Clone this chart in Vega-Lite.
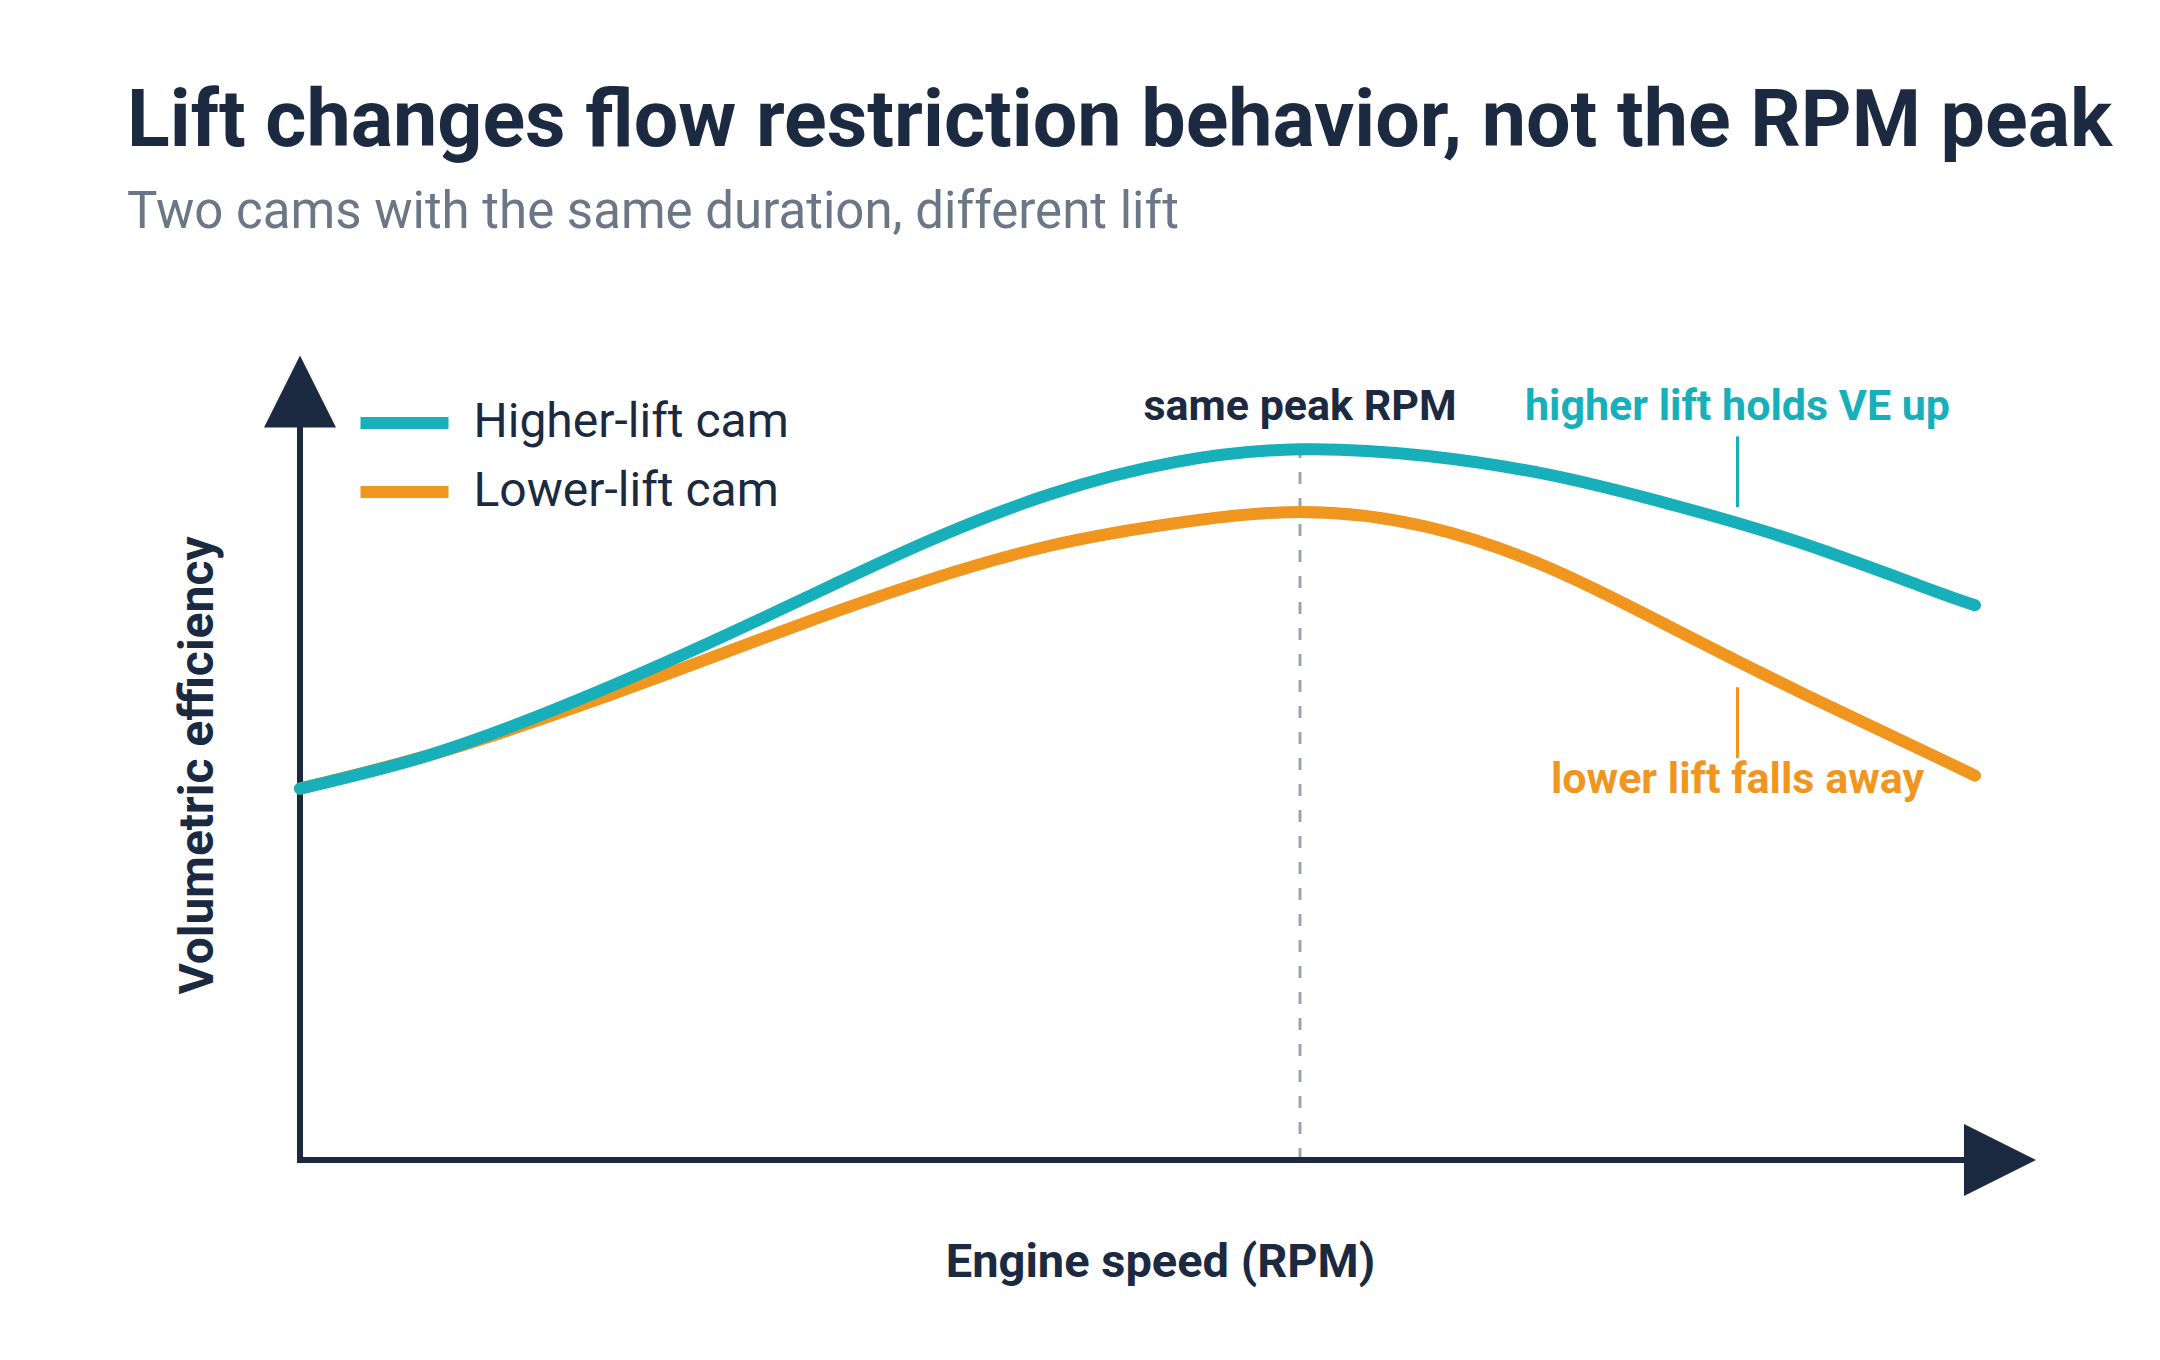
{
  "$schema": "https://vega.github.io/schema/vega-lite/v6.json",
  "width": 1750,
  "height": 804,
  "autosize": "none",
  "padding": {"left": 300, "top": 356, "right": 110, "bottom": 200},
  "background": "#ffffff",
  "title": {
    "text": "Lift changes flow restriction behavior, not the RPM peak",
    "subtitle": "Two cams with the same duration, different lift",
    "anchor": "start",
    "frame": "group",
    "dx": -173,
    "offset": 116,
    "font": "Roboto",
    "fontSize": 79,
    "fontWeight": 700,
    "color": "#1b2a41",
    "subtitleFont": "Roboto",
    "subtitleFontSize": 51,
    "subtitleFontWeight": 400,
    "subtitleColor": "#6b7787",
    "subtitlePadding": 25
  },
  "datasets": {
    "ve_curves": [
      {"cam": "Higher-lift cam", "rpm": 1000, "ve": 73.1},
      {"cam": "Higher-lift cam", "rpm": 1500, "ve": 75.1},
      {"cam": "Higher-lift cam", "rpm": 2000, "ve": 77.9},
      {"cam": "Higher-lift cam", "rpm": 2500, "ve": 81.2},
      {"cam": "Higher-lift cam", "rpm": 3000, "ve": 84.8},
      {"cam": "Higher-lift cam", "rpm": 3500, "ve": 88.4},
      {"cam": "Higher-lift cam", "rpm": 4000, "ve": 91.4},
      {"cam": "Higher-lift cam", "rpm": 4500, "ve": 93.4},
      {"cam": "Higher-lift cam", "rpm": 5000, "ve": 94.2},
      {"cam": "Higher-lift cam", "rpm": 5500, "ve": 93.8},
      {"cam": "Higher-lift cam", "rpm": 6000, "ve": 92.6},
      {"cam": "Higher-lift cam", "rpm": 6500, "ve": 90.7},
      {"cam": "Higher-lift cam", "rpm": 7000, "ve": 88.4},
      {"cam": "Higher-lift cam", "rpm": 7500, "ve": 85.6},
      {"cam": "Higher-lift cam", "rpm": 7700, "ve": 84.5},
      {"cam": "Lower-lift cam", "rpm": 1000, "ve": 73.1},
      {"cam": "Lower-lift cam", "rpm": 1500, "ve": 75.1},
      {"cam": "Lower-lift cam", "rpm": 2000, "ve": 77.6},
      {"cam": "Lower-lift cam", "rpm": 2500, "ve": 80.4},
      {"cam": "Lower-lift cam", "rpm": 3000, "ve": 83.3},
      {"cam": "Lower-lift cam", "rpm": 3500, "ve": 86.0},
      {"cam": "Lower-lift cam", "rpm": 4000, "ve": 88.2},
      {"cam": "Lower-lift cam", "rpm": 4500, "ve": 89.6},
      {"cam": "Lower-lift cam", "rpm": 5000, "ve": 90.3},
      {"cam": "Lower-lift cam", "rpm": 5500, "ve": 89.4},
      {"cam": "Lower-lift cam", "rpm": 6000, "ve": 86.8},
      {"cam": "Lower-lift cam", "rpm": 6500, "ve": 83.0},
      {"cam": "Lower-lift cam", "rpm": 7000, "ve": 79.1},
      {"cam": "Lower-lift cam", "rpm": 7500, "ve": 75.4},
      {"cam": "Lower-lift cam", "rpm": 7700, "ve": 73.9}
    ],
    "axis_lines": [
      {"rpm": 1000, "rpm_end": 1000, "ve": 50, "ve_end": 96},
      {"rpm": 1000, "rpm_end": 7700, "ve": 50, "ve_end": 50}
    ],
    "axis_heads": [
      {"rpm": 1000, "ve": 97.8, "dir": "up"},
      {"rpm": 7800, "ve": 50, "dir": "right"}
    ],
    "peak": [
      {"rpm": 5000, "ve": 50, "ve_end": 94.2}
    ],
    "leaders": [
      {"rpm": 6750, "ve": 95.0, "ve_end": 90.6, "tone": "teal"},
      {"rpm": 6750, "ve": 79.4, "ve_end": 75.0, "tone": "orange"}
    ],
    "notes": [
      {"rpm": 5000, "ve": 96.0, "note": "same peak RPM", "tone": "ink"},
      {"rpm": 6750, "ve": 96.0, "note": "higher lift holds VE up", "tone": "teal"},
      {"rpm": 6750, "ve": 72.8, "note": "lower lift falls away", "tone": "orange"}
    ]
  },
  "encoding": {
    "x": {
      "field": "rpm",
      "type": "quantitative",
      "title": "Engine speed (RPM)",
      "scale": {"domain": [1000, 8000], "nice": false, "zero": false}
    },
    "y": {
      "field": "ve",
      "type": "quantitative",
      "title": "Volumetric efficiency",
      "scale": {"domain": [50, 100], "nice": false, "zero": false}
    }
  },
  "layer": [
    {
      "data": {"name": "peak"},
      "mark": {"type": "rule", "color": "#9aa5b2", "strokeWidth": 3, "strokeDash": [12, 14]},
      "encoding": {"y2": {"field": "ve_end"}}
    },
    {
      "data": {"name": "axis_lines"},
      "mark": {"type": "rule", "color": "#1b2a41", "strokeWidth": 6, "strokeCap": "square"},
      "encoding": {"x2": {"field": "rpm_end"}, "y2": {"field": "ve_end"}}
    },
    {
      "data": {"name": "axis_heads"},
      "mark": {"type": "point", "filled": true, "opacity": 1, "size": 5184, "color": "#1b2a41", "strokeWidth": 0},
      "encoding": {
        "shape": {
          "field": "dir",
          "type": "nominal",
          "scale": {"domain": ["up", "right"], "range": ["M-1,1L0,-1L1,1Z", "M-1,-1L1,0L-1,1Z"]},
          "legend": null
        }
      }
    },
    {
      "data": {"name": "leaders"},
      "mark": {"type": "rule", "strokeWidth": 3},
      "encoding": {
        "y2": {"field": "ve_end"},
        "stroke": {
          "field": "tone",
          "type": "nominal",
          "scale": {"domain": ["ink", "teal", "orange"], "range": ["#1b2a41", "#17afba", "#f0961f"]},
          "legend": null
        }
      }
    },
    {
      "data": {"name": "ve_curves"},
      "transform": [{"filter": "datum.cam === 'Lower-lift cam'"}],
      "mark": {"type": "line", "strokeWidth": 12, "strokeCap": "round", "strokeJoin": "round", "interpolate": "natural"},
      "encoding": {
        "color": {
          "field": "cam",
          "type": "nominal",
          "scale": {"domain": ["Higher-lift cam", "Lower-lift cam"], "range": ["#17afba", "#f0961f"]},
          "legend": {
            "orient": "none",
            "legendX": 54.5,
            "legendY": 32.5,
            "title": null,
            "padding": 0,
            "symbolType": "stroke",
            "symbolSize": 7744,
            "symbolStrokeWidth": 12,
            "clipHeight": 69,
            "rowPadding": 0,
            "labelFont": "Roboto",
            "labelFontSize": 48,
            "labelColor": "#1b2a41",
            "labelOffset": 19,
            "labelLimit": 600
          }
        }
      }
    },
    {
      "data": {"name": "ve_curves"},
      "transform": [{"filter": "datum.cam === 'Higher-lift cam'"}],
      "mark": {"type": "line", "strokeWidth": 12, "strokeCap": "round", "strokeJoin": "round", "interpolate": "natural"},
      "encoding": {
        "color": {
          "field": "cam",
          "type": "nominal",
          "scale": {"domain": ["Higher-lift cam", "Lower-lift cam"], "range": ["#17afba", "#f0961f"]}
        }
      }
    },
    {
      "data": {"name": "notes"},
      "mark": {"type": "text", "align": "center", "baseline": "alphabetic", "font": "Roboto", "fontSize": 43, "fontWeight": 700},
      "encoding": {
        "text": {"field": "note"},
        "fill": {
          "field": "tone",
          "type": "nominal",
          "scale": {"domain": ["ink", "teal", "orange"], "range": ["#1b2a41", "#17afba", "#f0961f"]},
          "legend": null
        }
      }
    }
  ],
  "config": {
    "view": {"stroke": null},
    "axis": {
      "domain": false,
      "ticks": false,
      "labels": false,
      "grid": false,
      "titleFont": "Roboto",
      "titleFontSize": 47,
      "titleFontWeight": 700,
      "titleColor": "#1b2a41"
    },
    "axisX": {"titleX": 860, "titleY": 116, "titleBaseline": "alphabetic", "titleAlign": "center"},
    "axisY": {"titleX": -88, "titleY": 409, "titleAngle": 270, "titleBaseline": "alphabetic", "titleAlign": "center", "titleFontSize": 48}
  }
}
